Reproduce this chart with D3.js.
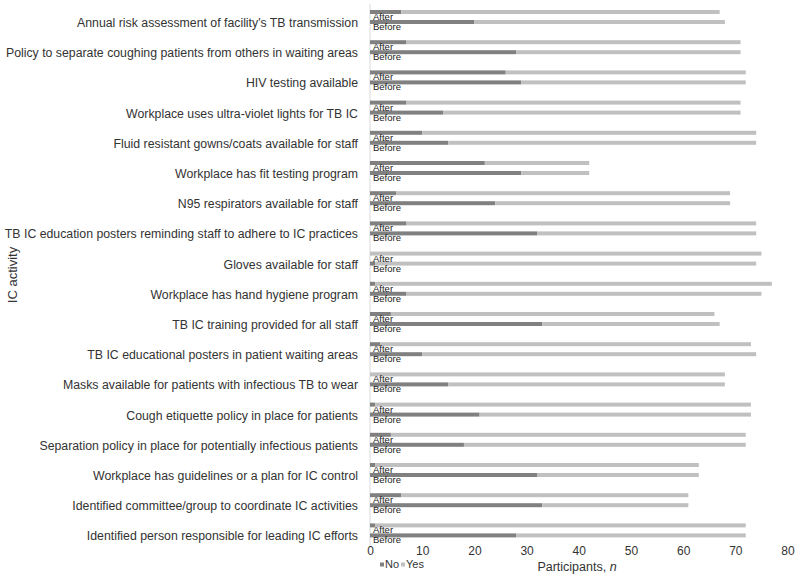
<!DOCTYPE html>
<html>
<head>
<meta charset="utf-8">
<script src="https://cdn.jsdelivr.net/npm/d3@7"></script>
<style>
  body { margin: 0; background: #fff; }
  text { font-family: "Liberation Sans", Arial, sans-serif; fill: #333; }
</style>
</head>
<body>
<svg id="chart" width="800" height="581"></svg>
<script>
var categories = [
  "Annual risk assessment of facility's TB transmission",
  "Policy to separate coughing patients from others in waiting areas",
  "HIV testing available",
  "Workplace uses ultra-violet lights for TB IC",
  "Fluid resistant gowns/coats available for staff",
  "Workplace has fit testing program",
  "N95 respirators available for staff",
  "TB IC education posters reminding staff to adhere to IC practices",
  "Gloves available for staff",
  "Workplace has hand hygiene program",
  "TB IC training provided for all staff",
  "TB IC educational posters in patient waiting areas",
  "Masks available for patients with infectious TB to wear",
  "Cough etiquette policy in place for patients",
  "Separation policy in place for potentially infectious patients",
  "Workplace has guidelines or a plan for IC control",
  "Identified committee/group to coordinate IC activities",
  "Identified person responsible for leading IC efforts"
];
var periods = ["After", "Before"];
var afterNo   = [6, 7, 26, 7, 10, 22, 5, 7, 0, 1, 4, 2, 0, 1, 4, 1, 6, 1];
var afterYes  = [61, 64, 46, 64, 64, 20, 64, 67, 75, 76, 62, 71, 68, 72, 68, 62, 55, 71];
var beforeNo  = [20, 28, 29, 14, 15, 29, 24, 32, 1, 7, 33, 10, 15, 21, 18, 32, 33, 28];
var beforeYes = [48, 43, 43, 57, 59, 13, 45, 42, 73, 68, 34, 64, 53, 52, 54, 31, 28, 44];
var xTicks = [0, 10, 20, 30, 40, 50, 60, 70, 80];
var seriesNames = ["No", "Yes"];
var colors = { No: "#808080", Yes: "#c0c0c0" };

var rows = [];
categories.forEach(function(c, i) {
  rows.push({ cat: c, period: "After", No: afterNo[i], Yes: afterYes[i] });
  rows.push({ cat: c, period: "Before", No: beforeNo[i], Yes: beforeYes[i] });
});

var svg = d3.select("#chart");

var x = d3.scaleLinear().domain([0, 80]).range([370, 787.5]);
var y = d3.scaleBand().domain(categories).range([2, 545.6]);
var sub = d3.scalePoint().domain(periods).range([8, 18]);
var barH = 4;

// vertical axis line
svg.append("line")
  .attr("x1", x(0)).attr("x2", x(0))
  .attr("y1", 4).attr("y2", 546)
  .attr("stroke", "#d9d9d9").attr("stroke-width", 1);

var stacked = d3.stack().keys(seriesNames)(rows);

svg.append("g").selectAll("g")
  .data(stacked)
  .enter().append("g")
  .attr("fill", function(d) { return colors[d.key]; })
  .selectAll("rect")
  .data(function(d) { return d; })
  .enter().append("rect")
  .attr("x", function(d) { return x(d[0]); })
  .attr("width", function(d) { return x(d[1]) - x(d[0]); })
  .attr("y", function(d) { return y(d.data.cat) + sub(d.data.period); })
  .attr("height", barH);

// inner labels After / Before
svg.append("g").selectAll("text")
  .data(rows)
  .enter().append("text")
  .attr("x", 373)
  .attr("y", function(d) { return y(d.cat) + sub(d.period) + 6.7; })
  .attr("dy", "0.35em")
  .style("font-size", "9.5px")
  .style("fill", "#222")
  .text(function(d) { return d.period; });

// category labels
svg.append("g").selectAll("text")
  .data(categories)
  .enter().append("text")
  .attr("x", 358)
  .attr("y", function(d) { return y(d) + 20.7; })
  .attr("dy", "0.35em")
  .attr("text-anchor", "end")
  .style("font-size", "12.3px")
  .text(function(d) { return d; });

// x axis tick labels
var xAxis = d3.axisBottom(x).tickValues(xTicks).tickSize(0).tickPadding(0);
var gx = svg.append("g").attr("transform", "translate(0,546)").call(xAxis);
gx.select(".domain").remove();
gx.selectAll("text")
  .style("font-size", "12px")
  .style("font-family", "'Liberation Sans', Arial, sans-serif")
  .attr("fill", "#333");

// axis titles
var xt = svg.append("text")
  .attr("x", 577).attr("y", 571)
  .attr("text-anchor", "middle")
  .style("font-size", "12.5px");
xt.append("tspan").text("Participants, ");
xt.append("tspan").style("font-style", "italic").text("n");

svg.append("text")
  .attr("transform", "translate(17,275) rotate(-90)")
  .attr("text-anchor", "middle")
  .style("font-size", "13px")
  .text("IC activity");

// legend
var leg = svg.append("g").attr("transform", "translate(380,561)");
var lx = [0, 21];
seriesNames.forEach(function(s, i) {
  leg.append("rect")
    .attr("x", lx[i]).attr("y", 1.5)
    .attr("width", 4).attr("height", 4)
    .attr("fill", colors[s]);
  leg.append("text")
    .attr("x", lx[i] + 5).attr("y", 3.5)
    .attr("dy", "0.35em")
    .style("font-size", "11px")
    .text(s);
});
</script>
</body>
</html>
